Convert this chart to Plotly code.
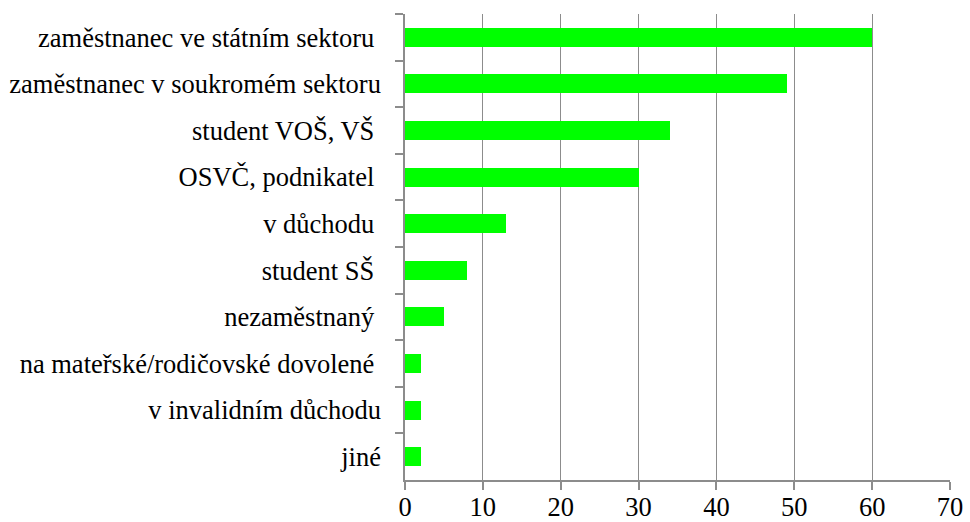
import plotly.graph_objects as go

# Categories listed top to bottom; a trailing non-breaking space keeps the
# original label spacing where the source text ended with a blank.
categories = [
    "zaměstnanec ve státním sektoru\u00a0",
    "zaměstnanec v soukromém sektoru",
    "student VOŠ, VŠ\u00a0",
    "OSVČ, podnikatel\u00a0",
    "v důchodu\u00a0",
    "student SŠ\u00a0",
    "nezaměstnaný\u00a0",
    "na mateřské/rodičovské dovolené\u00a0",
    "v invalidním důchodu",
    "jiné",
]
values = [60, 49, 34, 30, 13, 8, 5, 2, 2, 2]
x_ticks = [0, 10, 20, 30, 40, 50, 60, 70]

AXIS_GREY = "#8c8c8c"
FONT = dict(family="Times New Roman, Liberation Serif, DejaVu Serif, serif",
            size=26.5, color="black")

fig = go.Figure(
    go.Bar(
        x=values,
        y=categories,
        orientation="h",
        width=0.41,
        marker=dict(color="#00ff00", line=dict(width=0)),
        hoverinfo="x+y",
    )
)

fig.update_layout(
    width=970,
    height=522,
    margin=dict(l=405, r=20, t=14, b=42),
    paper_bgcolor="white",
    plot_bgcolor="white",
    font=FONT,
    showlegend=False,
    bargap=0,
)

fig.update_xaxes(
    range=[0, 70],
    tickvals=x_ticks,
    ticktext=[str(v) for v in x_ticks],
    showgrid=True,
    gridcolor=AXIS_GREY,
    gridwidth=1,
    zeroline=False,
    showline=True,
    linecolor=AXIS_GREY,
    linewidth=1.5,
    ticks="outside",
    ticklen=8,
    tickcolor=AXIS_GREY,
    tickwidth=1.5,
    ticklabelstandoff=-6,
    tickfont=FONT,
    automargin=False,
    fixedrange=True,
)

fig.update_yaxes(
    categoryorder="array",
    categoryarray=categories,
    autorange="reversed",
    showgrid=False,
    zeroline=False,
    showline=True,
    linecolor=AXIS_GREY,
    linewidth=1.5,
    ticks="outside",
    tickson="boundaries",
    ticklen=8,
    tickcolor=AXIS_GREY,
    tickwidth=1.5,
    ticklabelstandoff=17,
    tickfont=FONT,
    automargin=False,
    fixedrange=True,
)

fig.write_html("out.html")
